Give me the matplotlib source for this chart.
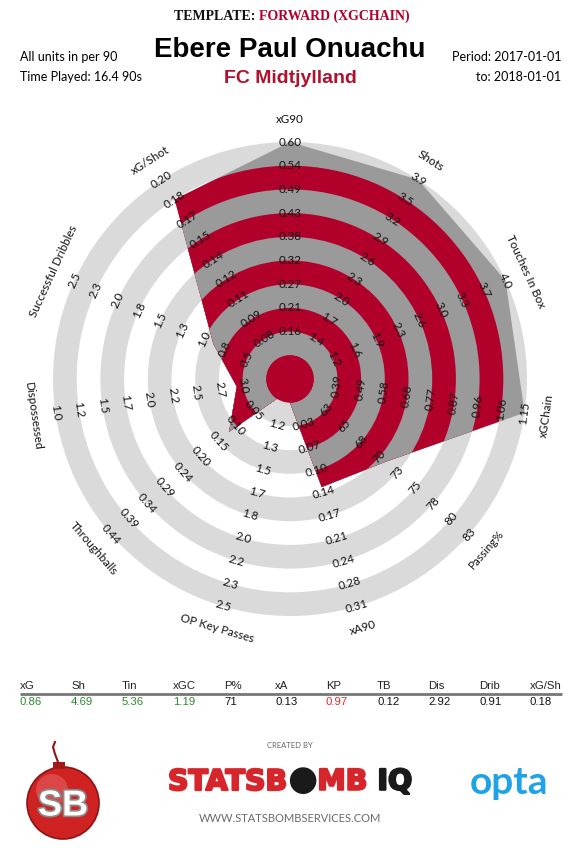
import matplotlib
matplotlib.use("Agg")
import matplotlib.pyplot as plt
import matplotlib.patheffects as pe
import numpy as np
from matplotlib.patches import Circle, Polygon

plt.rcParams["font.family"] = ["Lato", "DejaVu Sans"]

player = "Ebere Paul Onuachu"
team = "FC Midtjylland"
template = "FORWARD (XGCHAIN)"
time_played = "16.4"
period_start = "2017-01-01"
period_end = "2018-01-01"

stat_names = ["xG90", "Shots", "Touches In Box", "xGChain", "Passing%", "xA90",
              "OP Key Passes", "Throughballs", "Dispossessed", "Successful Dribbles", "xG/Shot"]
short_names = ["xG", "Sh", "Tin", "xGC", "P%", "xA", "KP", "TB", "Dis", "Drib", "xG/Sh"]
player_values = [0.86, 4.69, 5.36, 1.19, 71, 0.13, 0.97, 0.12, 2.92, 0.91, 0.18]

# ring labels, inner (ring 2) to outer (ring 10)
xg90_ticks = ["0.16", "0.21", "0.27", "0.32", "0.38", "0.43", "0.49", "0.54", "0.60"]
shots_ticks = ["1.4", "1.7", "2.0", "2.3", "2.6", "2.9", "3.2", "3.5", "3.9"]
touches_ticks = ["1.2", "1.6", "1.9", "2.3", "2.6", "3.0", "3.3", "3.7", "4.0"]
xgchain_ticks = ["0.39", "0.49", "0.58", "0.68", "0.77", "0.87", "0.96", "1.06", "1.15"]
passing_ticks = ["63", "65", "68", "70", "73", "75", "78", "80", "83"]
xa90_ticks = ["0.03", "0.07", "0.10", "0.14", "0.17", "0.21", "0.24", "0.28", "0.31"]
keypass_ticks = ["1.2", "1.3", "1.5", "1.7", "1.8", "2.0", "2.2", "2.3", "2.5"]
throughball_ticks = ["0.05", "0.10", "0.15", "0.20", "0.24", "0.29", "0.34", "0.39", "0.44"]
dispossessed_ticks = ["3.0", "2.7", "2.5", "2.2", "2.0", "1.7", "1.5", "1.2", "1.0"]
dribble_ticks = ["0.5", "0.8", "1.0", "1.3", "1.5", "1.8", "2.0", "2.3", "2.5"]
xgshot_ticks = ["0.08", "0.09", "0.11", "0.12", "0.14", "0.15", "0.17", "0.18", "0.20"]
axis_ticks = [xg90_ticks, shots_ticks, touches_ticks, xgchain_ticks, passing_ticks, xa90_ticks,
              keypass_ticks, throughball_ticks, dispossessed_ticks, dribble_ticks, xgshot_ticks]

good_stats = ["xG", "Sh", "Tin", "xGC"]
poor_stats = ["KP"]

RED = "#b1002a"
DARK = "#9a9a9a"
LIGHT = "#dadada"
GREEN = "#2b8a2b"
LOGO_RED = "#d7262b"


def ring_position(value, ticks):
    vals = np.array([float(t) for t in ticks])
    rings = np.arange(2, 2 + len(vals), dtype=float)
    if vals[0] > vals[-1]:
        vals, rings = vals[::-1], rings[::-1]
    k = np.interp(value, vals, rings, left=np.nan, right=np.nan)
    if np.isnan(k):
        k = 2 + 8 * (value - float(ticks[0])) / (float(ticks[-1]) - float(ticks[0]))
    return float(np.clip(k, 0, 10))


fig = plt.figure(figsize=(5.8, 8.5), dpi=100)
page = fig.add_axes([0, 0, 1, 1])
page.set_xlim(0, 580)
page.set_ylim(850, 0)
page.axis("off")

# radar in ring units
cx, cy, unit, half = 290, 379, 23.7, 12.2
radar = fig.add_axes([(cx - half * unit) / 580, (850 - cy - half * unit) / 850,
                      2 * half * unit / 580, 2 * half * unit / 850])
radar.set_xlim(-half, half)
radar.set_ylim(-half, half)
radar.set_aspect("equal")
radar.axis("off")

n = len(stat_names)
theta = np.arange(n) * 2 * np.pi / n
ks = np.array([ring_position(v, t) for v, t in zip(player_values, axis_ticks)])
shape = Polygon(np.column_stack([ks * np.sin(theta), ks * np.cos(theta)]), closed=True,
                facecolor="none", edgecolor="none")
radar.add_patch(shape)

for band in range(9, -1, -1):
    radar.add_patch(Circle((0, 0), band + 1, facecolor=LIGHT if band % 2 else "white",
                           edgecolor="none", zorder=1))
    inner = Circle((0, 0), band + 1, facecolor=DARK if band % 2 else RED,
                   edgecolor="none", zorder=2)
    radar.add_patch(inner)
    inner.set_clip_path(shape)
radar.add_patch(Circle((0, 0), 1, facecolor=RED, edgecolor="none", zorder=3))

for i, (name, ticks) in enumerate(zip(stat_names, axis_ticks)):
    deg = np.degrees(theta[i])
    rot = -deg if (deg <= 90 or deg >= 270) else 180 - deg
    sx, sy = np.sin(theta[i]), np.cos(theta[i])
    for k, lab in enumerate(ticks, start=2):
        radar.text(k * sx, k * sy, lab, rotation=rot, rotation_mode="anchor",
                   ha="center", va="center", fontsize=8.4, color="#111111", zorder=5)
    radar.text(10.95 * sx, 10.95 * sy, name, rotation=rot, rotation_mode="anchor",
               ha="center", va="center", fontsize=8.4, color="#111111", zorder=5)

# header
t1 = page.text(174, 16, "TEMPLATE: ", ha="left", va="center", fontsize=10,
               family="Liberation Serif", weight="bold", color="#111111")
page.annotate(template, xy=(1, 0), xycoords=t1, va="bottom", ha="left", fontsize=10,
              family="Liberation Serif", weight="bold", color=RED)
page.text(290, 50, player, ha="center", va="center", fontsize=20,
          family="Liberation Sans", weight="bold", color="black")
page.text(290, 78, team, ha="center", va="center", fontsize=14,
          family="Liberation Sans", weight="bold", color="#b0122e")
page.text(20, 57, "All units in per 90", ha="left", va="center", fontsize=9)
page.text(20, 77, f"Time Played: {time_played} 90s", ha="left", va="center", fontsize=9)
page.text(561, 57, f"Period: {period_start}", ha="right", va="center", fontsize=9)
page.text(561, 77, f"to: {period_end}", ha="right", va="center", fontsize=9)

# summary table
for i, (short, val) in enumerate(zip(short_names, player_values)):
    x = 20 + 51 * i
    colour = GREEN if short in good_stats else ("#e5262d" if short in poor_stats else "#111111")
    page.text(x, 686, short, ha="left", va="center", fontsize=8.2,
              family="Liberation Sans", color="#222222")
    page.text(x, 702, f"{val:g}", ha="left", va="center", fontsize=8.2,
              family="Liberation Sans", color=colour)
page.plot([20, 562], [694, 694], color="#777777", lw=2, solid_capstyle="butt")

# footer logos
page.add_patch(Circle((63, 803), 36, facecolor="#cf2222", edgecolor="#8e1414", lw=1.2))
page.add_patch(Circle((52, 790), 16, facecolor="#e86a6a", edgecolor="none", alpha=0.5))
page.add_patch(plt.Rectangle((53, 762), 12, 7, facecolor="#a31818", edgecolor="none"))
page.plot([58, 55, 53, 55], [762, 754, 747, 742], color="#8e1414", lw=1.5)
page.text(63, 806, "SB", ha="center", va="center", fontsize=26, weight="bold",
          family="Liberation Sans", color="white",
          path_effects=[pe.withStroke(linewidth=2.5, foreground="#8a8a8a")])

page.text(290, 746, "CREATED BY", ha="center", va="center", fontsize=5.5, color="#666666")
heavy_red = [pe.withStroke(linewidth=1.6, foreground=LOGO_RED)]
heavy_black = [pe.withStroke(linewidth=1.6, foreground="#1a1a1a")]
s1 = page.text(168, 782, "STATSB", ha="left", va="center", fontsize=20.5,
               family="DejaVu Sans", weight="bold", color=LOGO_RED, path_effects=heavy_red)
s2 = page.annotate("\u25cf", xy=(1, -0.05), xycoords=s1, ha="left", va="bottom", fontsize=25,
                   family="DejaVu Sans", color="#1a1a1a")
s3 = page.annotate("MB", xy=(1, 0.05), xycoords=s2, ha="left", va="bottom", fontsize=20.5,
                   family="DejaVu Sans", weight="bold", color=LOGO_RED, path_effects=heavy_red)
page.annotate(" IQ", xy=(1, 0), xycoords=s3, ha="left", va="bottom", fontsize=20.5,
              family="DejaVu Sans", weight="bold", color="#1a1a1a", path_effects=heavy_black)
page.text(290, 819, "WWW.STATSBOMBSERVICES.COM", ha="center", va="center", fontsize=8,
          color="#6a6a6a")
page.text(509, 783, "opta", ha="center", va="center", fontsize=28, weight="bold",
          color="#1ea3e6")

fig.savefig("out.png", dpi=100)
plt.close(fig)
